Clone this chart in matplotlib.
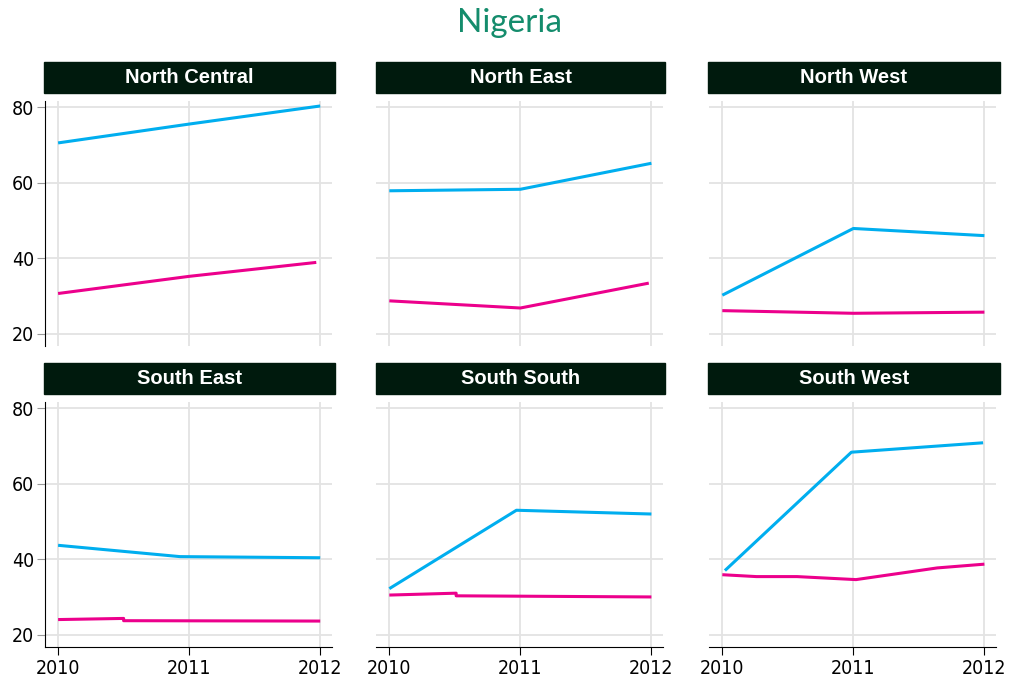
import matplotlib
matplotlib.use("Agg")
import matplotlib.pyplot as plt
from matplotlib.patches import Rectangle
from matplotlib import font_manager

regions = ["North Central", "North East", "North West",
           "South East", "South South", "South West"]

# blue series (x, y) per region
blue_x = {
    "North Central": [2010, 2011, 2012],
    "North East": [2010, 2011, 2012],
    "North West": [2010, 2011, 2012],
    "South East": [2010, 2010.93, 2012],
    "South South": [2010, 2010.97, 2012],
    "South West": [2010.02, 2010.985, 2011.99],
}
blue_y = {
    "North Central": [70.6, 75.6, 80.4],
    "North East": [57.9, 58.3, 65.2],
    "North West": [30.2, 47.9, 46.0],
    "South East": [43.7, 40.7, 40.4],
    "South South": [32.2, 53.0, 52.0],
    "South West": [37.0, 68.4, 70.9],
}
# magenta series
mag_x = {
    "North Central": [2010, 2011, 2011.97],
    "North East": [2010, 2011, 2011.98],
    "North West": [2010, 2011, 2012],
    "South East": [2010, 2010.5, 2010.5, 2012],
    "South South": [2010, 2010.51, 2010.51, 2012],
    "South West": [2010, 2010.26, 2010.57, 2011.02, 2011.28, 2011.64, 2012],
}
mag_y = {
    "North Central": [30.65, 35.2, 38.9],
    "North East": [28.7, 26.8, 33.4],
    "North West": [26.1, 25.4, 25.7],
    "South East": [24.0, 24.3, 23.7, 23.6],
    "South South": [30.5, 31.0, 30.3, 30.0],
    "South West": [35.9, 35.4, 35.4, 34.6, 35.9, 37.7, 38.7],
}
x_ticks = [2010, 2011, 2012]
y_ticks = [20, 40, 60, 80]

BLUE = "#00aeef"
MAGENTA = "#ec008c"
STRIP = "#001a0d"
TITLE = "#148c6c"
GRID = "#e3e3e3"

W, H = 1011, 680
fig = plt.figure(figsize=(W / 100, H / 100), dpi=100)

# condensed tick font if available
names = {f.name for f in font_manager.fontManager.ttflist}
if "DejaVu Sans Condensed" in names:
    tick_kw = dict(family=["DejaVu Sans Condensed", "DejaVu Sans"], size=14)
else:
    cond = [f for f in font_manager.fontManager.ttflist
            if f.name == "DejaVu Sans" and f.stretch == "condensed" and f.weight in (400, "normal")]
    if cond:
        tick_kw = dict(family=["DejaVu Sans"], stretch="condensed", size=14)
    else:
        tick_kw = dict(family=["Liberation Sans", "DejaVu Sans"], size=13.5)

col_left = [45, 376.2, 709.2]
col_w = 287
row_top = [100.7, 401.7]
row_h = 245
strip_x = [(44, 335), (376, 665), (708, 1000)]
strip_y = [(62, 93), (363, 394)]

ylim = (16.8, 81.8)
xlim = (2009.9, 2012.09)

fig.text(510 / W, 1 - 23 / H, "Nigeria", ha="center", va="center",
         color=TITLE, fontsize=24, family=["Lato", "DejaVu Sans"])

for i, reg in enumerate(regions):
    r, c = divmod(i, 3)
    ax = fig.add_axes([col_left[c] / W, 1 - (row_top[r] + row_h) / H,
                       col_w / W, row_h / H])
    ax.set_xlim(*xlim)
    ax.set_ylim(*ylim)
    ax.set_xticks(x_ticks)
    ax.set_yticks(y_ticks)
    ax.grid(True, color=GRID, linewidth=1.3)
    ax.set_axisbelow(True)
    for s in ["top", "right"]:
        ax.spines[s].set_visible(False)
    ax.spines["left"].set_visible(c == 0)
    ax.spines["bottom"].set_visible(r == 1)
    ax.spines["left"].set_color("black")
    ax.spines["bottom"].set_color("black")
    ax.tick_params(axis="y", length=6 if c == 0 else 0, color="#999999",
                   labelleft=(c == 0), pad=2)
    ax.tick_params(axis="x", length=6 if r == 1 else 0, color="black",
                   labelbottom=(r == 1), pad=3)
    for lab in ax.get_xticklabels() + ax.get_yticklabels():
        lab.set(**{("fontfamily" if k == "family" else "fontstretch" if k == "stretch" else "fontsize"): v
                   for k, v in tick_kw.items()})
    ax.plot(blue_x[reg], blue_y[reg], color=BLUE, lw=2.2, solid_capstyle="butt")
    ax.plot(mag_x[reg], mag_y[reg], color=MAGENTA, lw=2.2, solid_capstyle="butt")

    x0, x1 = strip_x[c]
    y0, y1 = strip_y[r]
    fig.patches.append(Rectangle((x0 / W, 1 - y1 / H), (x1 - x0) / W, (y1 - y0) / H,
                                 transform=fig.transFigure, color=STRIP, zorder=1))
    fig.text((x0 + x1) / 2 / W, 1 - (y0 + y1) / 2 / H, reg, ha="center", va="center",
             color="white", fontsize=14.5, fontweight="bold",
             family=["Liberation Sans", "DejaVu Sans"])

fig.savefig("out.png", dpi=100, facecolor="white")
